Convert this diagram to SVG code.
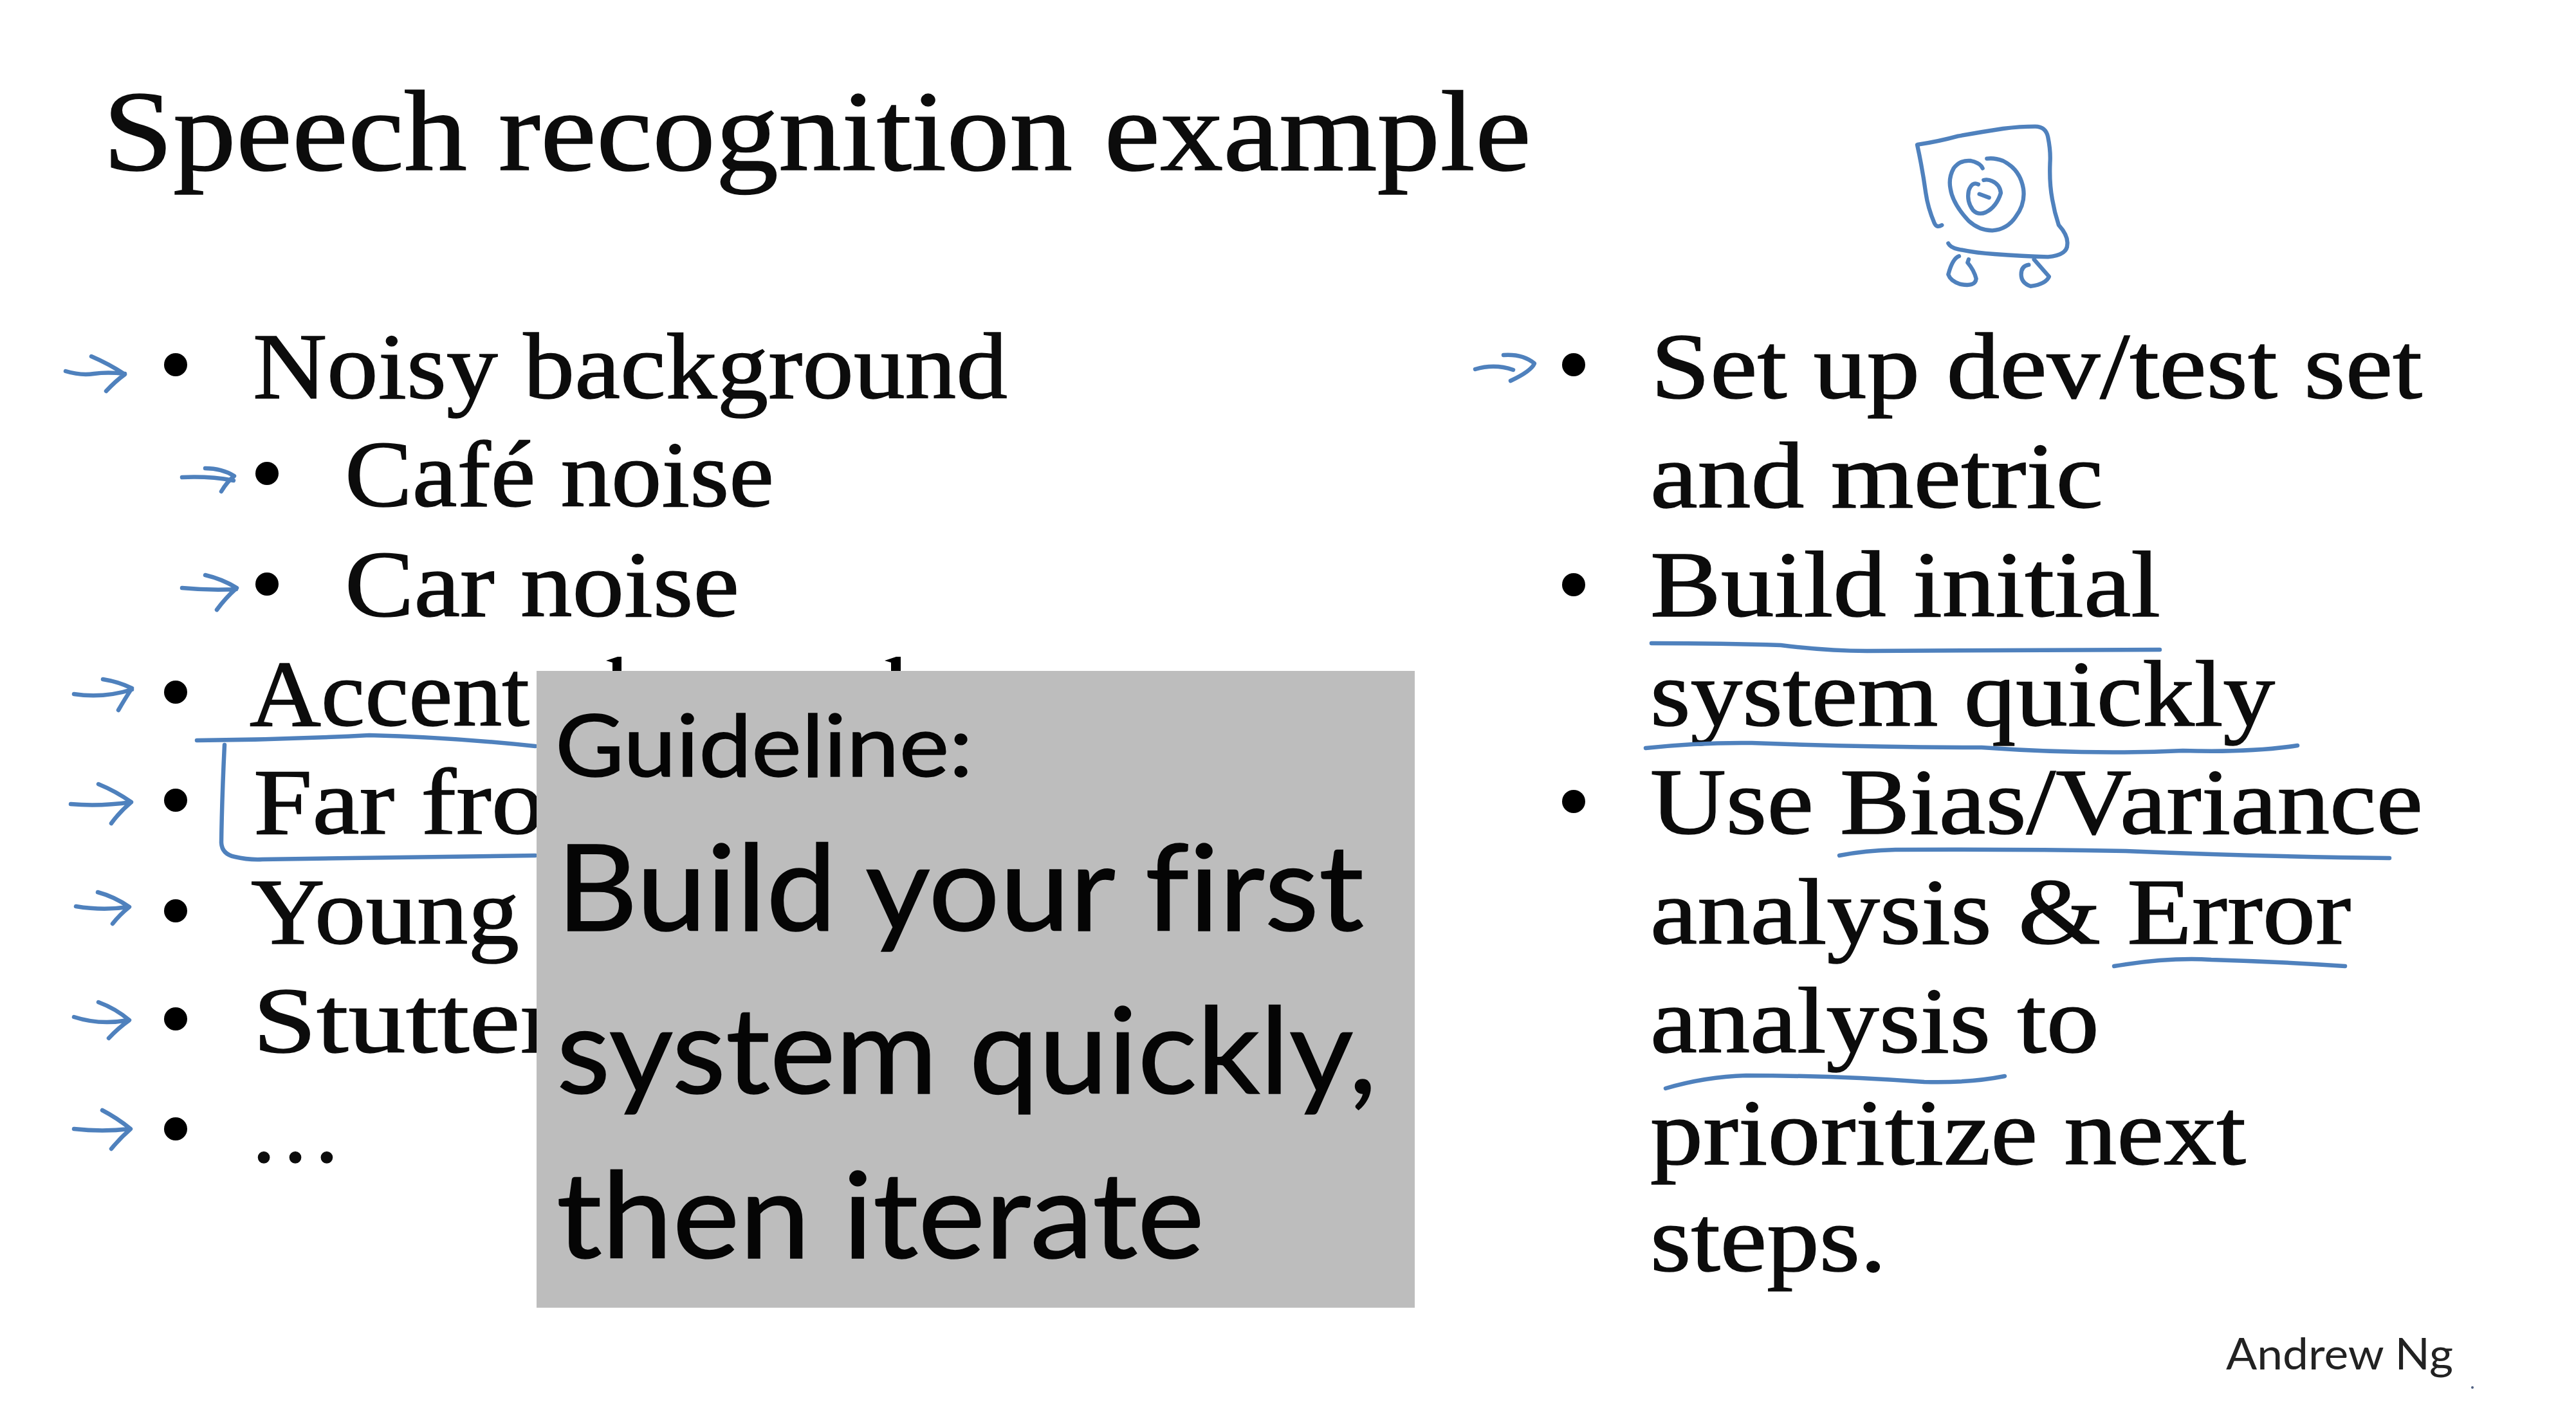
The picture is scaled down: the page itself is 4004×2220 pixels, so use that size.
<svg xmlns="http://www.w3.org/2000/svg" width="4004" height="2220" viewBox="0 0 4004 2220">
<style>
.t{font-family:"Liberation Serif","DejaVu Serif",serif;font-size:146px;fill:#0c0c0c;stroke:#0c0c0c;stroke-width:1.5px}
.title{font-size:178px}
.g{font-family:Lato,"Open Sans",sans-serif;fill:#050505;stroke:#050505;stroke-width:1.5px;font-variant-ligatures:none}
.ink{fill:none;stroke:#4f81bd;stroke-width:6.5;stroke-linecap:round;stroke-linejoin:round}
.b{fill:#000}
</style>
<rect width="4004" height="2220" fill="#fff"/>
<g id="title"><text class="t title" x="160" y="264" textLength="2220" lengthAdjust="spacingAndGlyphs">Speech recognition example</text></g>
<g id="left-list">
<circle class="b" cx="273" cy="567" r="18"/><text class="t" x="393" y="619" textLength="1173" lengthAdjust="spacingAndGlyphs">Noisy background</text>
<circle class="b" cx="415" cy="736" r="18"/><text class="t" x="536" y="787" textLength="667" lengthAdjust="spacingAndGlyphs">Café noise</text>
<circle class="b" cx="415" cy="908" r="18"/><text class="t" x="536" y="958" textLength="613" lengthAdjust="spacingAndGlyphs">Car noise</text>
<circle class="b" cx="273" cy="1076" r="18"/><text class="t" x="388" y="1128" textLength="435" lengthAdjust="spacingAndGlyphs">Accent</text>
<circle class="b" cx="273" cy="1244" r="18"/><text class="t" x="394" y="1296" textLength="452" lengthAdjust="spacingAndGlyphs">Far fro</text>
<circle class="b" cx="273" cy="1416" r="18"/><text class="t" x="390" y="1467" textLength="417" lengthAdjust="spacingAndGlyphs">Young</text>
<circle class="b" cx="273" cy="1584" r="18"/><text class="t" x="393" y="1636" textLength="475" lengthAdjust="spacingAndGlyphs">Stutter</text>
<circle class="b" cx="273" cy="1755" r="18"/><text class="t" x="386" y="1806">…</text>
<path class="b" d="M942 1027 L960 1021 L966 1021 V1045 H952 V1030Z"/>
<path class="b" d="M1375 1027 L1393 1021 L1400 1021 V1045 H1385 V1030Z"/>
</g>
<g id="right-list">
<circle class="b" cx="2446" cy="567" r="18"/><text class="t" x="2566" y="619" textLength="1199" lengthAdjust="spacingAndGlyphs">Set up dev/test set</text>
<text class="t" x="2565" y="789" textLength="704" lengthAdjust="spacingAndGlyphs">and metric</text>
<circle class="b" cx="2446" cy="909" r="18"/><text class="t" x="2565" y="958" textLength="793" lengthAdjust="spacingAndGlyphs">Build initial</text>
<text class="t" x="2565" y="1128" textLength="971" lengthAdjust="spacingAndGlyphs">system quickly</text>
<circle class="b" cx="2446" cy="1246" r="18"/><text class="t" x="2565" y="1296" textLength="1201" lengthAdjust="spacingAndGlyphs">Use Bias/Variance</text>
<text class="t" x="2565" y="1467" textLength="1089" lengthAdjust="spacingAndGlyphs">analysis &amp; Error</text>
<text class="t" x="2565" y="1636" textLength="698" lengthAdjust="spacingAndGlyphs">analysis to</text>
<text class="t" x="2565" y="1810" textLength="926" lengthAdjust="spacingAndGlyphs">prioritize next</text>
<text class="t" x="2565" y="1976" textLength="367" lengthAdjust="spacingAndGlyphs">steps.</text>
</g>
<g id="ink-arrows" class="ink">
<path d="M102 577Q125 584 146 581T194 581M142 554Q170 566 194 582Q180 592 165 608"/>
<path d="M283 742Q325 740 363 747M319 728Q345 728 364 740Q352 750 344 764"/>
<path d="M283 914Q325 918 367 916M319 894Q345 900 368 914Q350 930 337 948"/>
<path d="M115 1079Q160 1086 205 1072M160 1056Q185 1060 205 1070Q195 1085 184 1104"/>
<path d="M110 1250Q155 1254 204 1247M153 1219Q180 1230 204 1247Q186 1262 173 1280"/>
<path d="M118 1409Q160 1416 199 1410M152 1387Q178 1394 201 1410Q186 1422 175 1436"/>
<path d="M115 1581Q155 1594 199 1586M153 1558Q180 1568 201 1586Q184 1598 169 1614"/>
<path d="M115 1755Q160 1760 201 1755M159 1726Q182 1738 203 1755Q186 1770 173 1786"/>
<path d="M2293 574Q2323 565 2352 575M2337 552Q2367 550 2385 565Q2380 577 2348 592"/>
</g>
<g id="ink-marks" class="ink">
<path d="M306 1151Q440 1150 574 1143Q700 1146 832 1160"/>
<path d="M349 1158Q345 1240 344 1310Q345 1328 365 1332Q385 1337 408 1336L832 1330"/>
<path d="M2567 1000Q2680 1000 2768 1003Q2840 1012 2902 1012L3357 1010"/>
<path d="M2558 1163Q2640 1154 2723 1155Q2900 1162 3080 1162Q3250 1174 3393 1167Q3500 1170 3571 1159"/>
<path d="M2859 1330Q2900 1322 2946 1321Q3130 1320 3304 1323Q3520 1332 3714 1334"/>
<path d="M3286 1502Q3370 1488 3437 1492Q3540 1495 3645 1502"/>
<path d="M2589 1692Q2650 1674 2714 1672Q2850 1672 2991 1682Q3060 1684 3116 1673"/>
<circle cx="3843" cy="2157" r="2" fill="#4f5f80" stroke="none"/>
</g>
<g id="speaker" transform="translate(2900 150) scale(.3333)" class="ink" style="stroke-width:19">
<path d="M355 600Q330 615 320 590Q290 520 280 450Q265 340 240 225Q340 210 430 185Q540 165 640 150Q720 140 790 140Q840 140 850 190Q862 250 860 300Q855 400 870 480Q880 540 900 600Q945 650 940 690Q940 740 850 748Q730 745 600 735Q510 730 430 712Q395 705 385 685"/>
<path d="M545 335Q535 310 490 300Q440 295 410 335Q385 380 395 430Q405 500 480 580Q530 625 590 625Q660 620 700 560Q745 500 735 430Q720 340 640 300Q600 285 565 290"/>
<path d="M525 410Q495 395 480 440Q470 490 500 530Q525 555 560 540Q610 515 630 450Q625 410 590 395Q570 385 550 390"/>
<path d="M530 455L575 472"/>
<path d="M435 745Q405 755 385 830Q395 860 440 875Q510 890 515 850Q505 810 475 775L480 760"/>
<path d="M785 760Q820 800 855 840Q840 875 770 885Q725 870 725 830Q725 790 760 785"/>
</g>
<g id="guideline">
<rect x="834" y="1043" width="1365" height="990" fill="#bdbdbd"/>
<text class="g" x="863" y="1207" font-size="134" textLength="649" lengthAdjust="spacingAndGlyphs">Guideline:</text>
<text class="g" x="865" y="1447" font-size="186" textLength="1255" lengthAdjust="spacingAndGlyphs">Build your first</text>
<text class="g" x="865" y="1700" font-size="186" textLength="1275" lengthAdjust="spacingAndGlyphs">system quickly,</text>
<text class="g" x="865" y="1956" font-size="186" textLength="1007" lengthAdjust="spacingAndGlyphs">then iterate</text>
</g>
<g id="credit"><text class="g" x="3460" y="2129" font-size="68" style="stroke:none;fill:#222" textLength="353" lengthAdjust="spacingAndGlyphs">Andrew Ng</text></g>
</svg>
